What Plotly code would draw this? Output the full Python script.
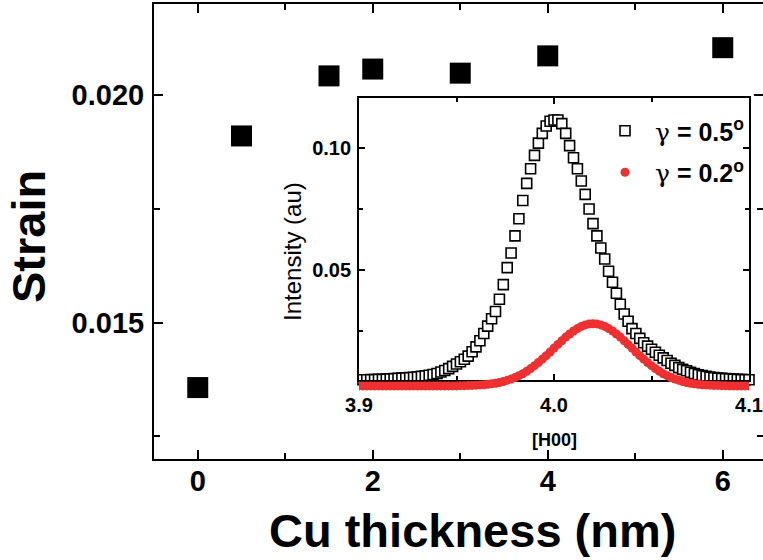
import numpy as np
import plotly.graph_objects as go

# ---- main panel data ----
cu_thickness = [0, 0.5, 1.5, 2, 3, 4, 6]
strain = [0.01357, 0.01910, 0.02042, 0.02057, 0.02048, 0.02086, 0.02104]

# ---- inset data (scan positions along [H00]) ----
h_scan = np.round(np.linspace(3.900, 4.100, 101), 3)

intensity_05 = [
    0.0050, 0.0050, 0.0051, 0.0051, 0.0052, 0.0052, 0.0053, 0.0054, 0.0055, 0.0056,
    0.0057, 0.0058, 0.0059, 0.0060, 0.0062, 0.0064, 0.0066, 0.0069, 0.0072, 0.0076,
    0.0082, 0.0088, 0.0096, 0.0105, 0.0115, 0.0124, 0.0134, 0.0147, 0.0165, 0.0185,
    0.0210, 0.0240, 0.0270, 0.0300, 0.0330, 0.0380, 0.0440, 0.0510, 0.0570, 0.0640,
    0.0710, 0.0785, 0.0855, 0.0915, 0.0970, 0.1020, 0.1060, 0.1090, 0.1110, 0.1115,
    0.1115, 0.1100, 0.1060, 0.1010, 0.0960, 0.0915, 0.0865, 0.0810, 0.0750, 0.0690,
    0.0640, 0.0590, 0.0545, 0.0495, 0.0450, 0.0405, 0.0360, 0.0320, 0.0290, 0.0260,
    0.0240, 0.0220, 0.0202, 0.0188, 0.0175, 0.0163, 0.0151, 0.0140, 0.0129, 0.0118,
    0.0109, 0.0100, 0.0093, 0.0087, 0.0081, 0.0076, 0.0071, 0.0067, 0.0064, 0.0061,
    0.0059, 0.0057, 0.0056, 0.0055, 0.0054, 0.0053, 0.0052, 0.0051, 0.0051, 0.0050,
]  # starts at H = 3.902

intensity_02 = [
    0.0025, 0.0025, 0.0025, 0.0025, 0.0025, 0.0025, 0.0025, 0.0025, 0.0025, 0.0025,
    0.0025, 0.0025, 0.0025, 0.0025, 0.0025, 0.0025, 0.0025, 0.0025, 0.0025, 0.0025,
    0.0025, 0.0025, 0.0025, 0.0025, 0.0025, 0.0025,
    0.0026, 0.0026, 0.0027, 0.0027, 0.0028, 0.0029, 0.0030, 0.0032, 0.0034, 0.0036,
    0.0039, 0.0043, 0.0048, 0.0053, 0.0059, 0.0067, 0.0075, 0.0085, 0.0096, 0.0108,
    0.0121, 0.0135, 0.0149, 0.0164, 0.0180, 0.0195, 0.0210, 0.0225, 0.0238, 0.0250,
    0.0260, 0.0269, 0.0275, 0.0279,
    0.0280,
    0.0279, 0.0275, 0.0269, 0.0260, 0.0250, 0.0238, 0.0225, 0.0210, 0.0195, 0.0180,
    0.0164, 0.0149, 0.0135, 0.0121, 0.0108, 0.0096, 0.0085, 0.0075, 0.0067, 0.0059,
    0.0053, 0.0048, 0.0043, 0.0039, 0.0036, 0.0034, 0.0032, 0.0030, 0.0029, 0.0028,
    0.0027, 0.0027, 0.0026, 0.0026,
    0.0025, 0.0025, 0.0025, 0.0025, 0.0025, 0.0025,
]

legend_labels = ["0.5", "0.2"]

FONT = "Liberation Sans, Arial, sans-serif"
RED = "#EE3030"
GAMMA = "<span style=\"font-family:'DejaVu Serif';font-weight:normal\">γ</span>"

L, R, T, B = 154, 763, 4, 459
W, H = 763, 560
IN_L, IN_R, IN_T, IN_B = 359, 749, 98, 380
PX_PER_UNIT = (270 - 148) / 0.05          # inset vertical scale
IN_YMAX = 0.1205
IN_YMIN = IN_YMAX - (IN_B - IN_T) / PX_PER_UNIT
EXT_B = 393                                 # lower edge of the (hidden) extended axis
EXT_YMIN = IN_YMAX - (EXT_B - IN_T) / PX_PER_UNIT

def px(x):
    return (x - L) / (R - L)
def py(y):
    return (B - y) / (B - T)

fig = go.Figure()

fig.add_trace(go.Scatter(
    x=cu_thickness, y=strain, mode="markers",
    marker=dict(symbol="square", size=21, color="black"),
    showlegend=False, xaxis="x", yaxis="y", cliponaxis=False,
))

fig.add_trace(go.Scatter(
    x=h_scan[1:], y=intensity_05, mode="markers",
    name=f"{GAMMA} = {legend_labels[0]}<sup>o</sup>",
    legendgroup="a",
    marker=dict(symbol="square", size=10, color="white", line=dict(color="black", width=1.6)),
    xaxis="x2", yaxis="y2", cliponaxis=False,
))
fig.add_trace(go.Scatter(
    x=h_scan, y=intensity_02, mode="markers",
    name=f"{GAMMA} = {legend_labels[1]}<sup>o</sup>",
    legendgroup="b",
    marker=dict(symbol="circle", size=9, color=RED),
    xaxis="x2", yaxis="y3", cliponaxis=True,
))

axis_common = dict(showline=True, linecolor="black", mirror="ticks", ticks="inside",
                   showgrid=False, zeroline=False, tickcolor="black")

fig.update_layout(
    width=W, height=H, margin=dict(l=L, r=W - R, t=T, b=H - B, autoexpand=False),
    paper_bgcolor="white", plot_bgcolor="rgba(0,0,0,0)",
    font=dict(family=FONT, color="black"),
    xaxis=dict(domain=[0, 1], range=[-0.5, 6.46], tick0=0, dtick=2,
               ticklen=9, tickwidth=2, linewidth=2,
               tickfont=dict(size=29, weight="bold"), ticklabelstandoff=-5,
               minor=dict(dtick=1, ticks="inside", ticklen=6, tickwidth=2, tickcolor="black"),
               **axis_common),
    yaxis=dict(domain=[0, 1], range=[0.012, 0.022], tick0=0, dtick=0.005, tickformat=".3f",
               ticklen=9, tickwidth=2, linewidth=2,
               tickfont=dict(size=29, weight="bold"), ticklabelstandoff=2,
               minor=dict(dtick=0.0025, ticks="inside", ticklen=6, tickwidth=2, tickcolor="black"),
               **axis_common),
    xaxis2=dict(domain=[px(IN_L), px(IN_R)], anchor="y2", range=[3.9, 4.1],
                tickvals=[3.9, 4.0, 4.1], ticktext=["3.9", "4.0", "4.1"],
                ticklen=6, tickwidth=1.5, linewidth=1.8,
                tickfont=dict(size=20, weight="bold"), ticklabelstandoff=6,
                minor=dict(dtick=0.05, ticks="inside", ticklen=4, tickwidth=1.5, tickcolor="black"),
                **axis_common),
    yaxis2=dict(domain=[py(IN_B), py(IN_T)], anchor="x2", range=[IN_YMIN, IN_YMAX],
                tick0=0, dtick=0.05, tickformat=".2f",
                ticklen=6, tickwidth=1.5, linewidth=1.8,
                tickfont=dict(size=20, weight="bold"), ticklabelstandoff=2,
                minor=dict(dtick=0.025, ticks="inside", ticklen=4, tickwidth=1.5, tickcolor="black"),
                **axis_common),
    yaxis3=dict(domain=[py(EXT_B), py(IN_T)], anchor="x2", range=[EXT_YMIN, IN_YMAX],
                visible=False, showgrid=False, zeroline=False),
    legend=dict(xref="container", yref="container", x=595 / W, y=(H - 108) / H,
                xanchor="left", yanchor="top", itemwidth=50,
                bgcolor="rgba(0,0,0,0)", font=dict(size=25, weight="bold"),
                tracegroupgap=6, itemsizing="trace"),
    annotations=[
        dict(text="<b>Cu thickness (nm)</b>", x=px(472), y=py(530), xref="paper", yref="paper",
             xanchor="center", yanchor="middle", showarrow=False, font=dict(size=47)),
        dict(text="<b>Strain</b>", x=px(29), y=py(237), xref="paper", yref="paper",
             xanchor="center", yanchor="middle", showarrow=False, textangle=-90, font=dict(size=47)),
        dict(text="Intensity (au)", x=px(292), y=py(252), xref="paper", yref="paper",
             xanchor="center", yanchor="middle", showarrow=False, textangle=-90, font=dict(size=24)),
        dict(text="<b>[H00]</b>", x=px(554), y=py(440), xref="paper", yref="paper",
             xanchor="center", yanchor="middle", showarrow=False, font=dict(size=18)),
    ],
)

fig.write_html(
    "out.html",
    post_script=("document.documentElement.style.overflow='hidden';"
                 "document.body.style.overflow='hidden';"
                 "document.body.style.margin='0';"),
)
